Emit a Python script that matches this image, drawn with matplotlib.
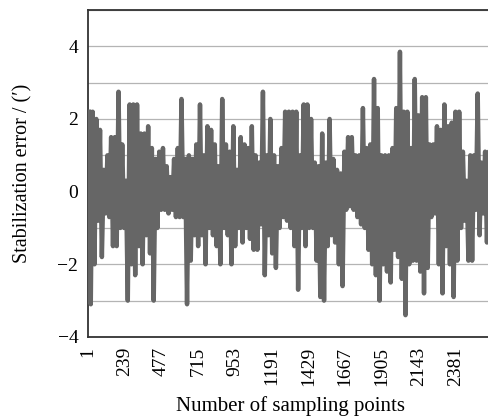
import numpy as np
import matplotlib.pyplot as plt
from matplotlib.ticker import MultipleLocator

# stabilization error, one window = 24 samples
# upper and lower extent of the trace inside each window
err_high = [
    2.2, 2.2, 2.0, 1.7, 0.6, 1.0, 1.5, 1.5, 2.75, 1.3,
    0.3, 2.4, 2.4, 2.4, 1.6, 1.6, 1.8, 1.2, 0.9, 1.1,
    1.2, 0.7, 0.4, 0.9, 1.2, 2.55, 0.9, 1.0, 0.9, 1.3,
    2.4, 1.0, 1.8, 1.7, 1.3, 0.7, 2.55, 1.3, 1.1, 1.8,
    0.6, 1.5, 1.3, 1.2, 1.8, 1.0, 0.8, 2.75, 1.0, 2.0,
    1.0, 0.7, 1.2, 2.2, 2.2, 2.2, 2.2, 1.0, 2.4, 2.4,
    2.0, 0.8, 0.7, 1.6, 0.8, 2.0, 0.9, 0.6, 0.5, 1.1,
    1.5, 1.5, 1.0, 1.0, 2.3, 1.2, 1.3, 3.1, 2.3, 1.0,
    1.0, 1.0, 1.2, 2.3, 3.85, 2.2, 2.2, 1.2, 3.1, 2.1,
    2.6, 2.6, 1.3, 1.3, 1.8, 1.7, 2.4, 1.8, 1.9, 2.2,
    2.2, 1.1, 0.3, 1.0, 1.0, 2.7, 0.8, 1.1, 1.1,
]
err_low = [
    -3.1, -2.0, -0.8, -1.8, -0.6, -0.7, -1.5, -1.5, -1.0, -1.0,
    -3.0, -2.0, -2.3, -1.5, -2.0, -1.2, -1.7, -3.0, -1.0, -0.5,
    -0.5, -0.6, -0.5, -0.7, -0.7, -0.7, -3.1, -1.9, -1.2, -1.5,
    -1.2, -2.0, -1.0, -1.2, -1.5, -2.0, -1.0, -1.2, -2.0, -1.5,
    -1.0, -1.4, -1.0, -1.3, -1.6, -1.6, -0.9, -2.3, -1.2, -1.7,
    -2.1, -1.0, -0.7, -0.8, -1.0, -1.5, -2.7, -1.0, -1.5, -1.0,
    -1.0, -1.9, -2.9, -3.0, -1.5, -1.2, -1.4, -2.0, -2.6, -0.5,
    -0.4, -0.5, -0.7, -0.9, -1.0, -1.6, -2.0, -2.3, -3.0, -2.0,
    -2.2, -2.5, -1.6, -1.8, -2.4, -3.4, -2.0, -1.9, -1.9, -2.2,
    -2.8, -2.1, -0.7, -0.6, -2.0, -2.8, -1.5, -2.0, -2.9, -1.9,
    -1.0, -0.8, -1.9, -1.9, -0.5, -1.2, -0.6, -1.4, -1.4,
]

window = 24
x_ticks = [1, 239, 477, 715, 953, 1191, 1429, 1667, 1905, 2143, 2381]

starts = 1 + window * np.arange(len(err_high))
samples = np.column_stack([starts + 6, starts + 18]).ravel()
error = np.column_stack([err_high, err_low]).ravel()

plt.rcParams["font.family"] = ["Liberation Serif", "DejaVu Serif"]

fig = plt.figure(figsize=(4.88, 4.16), dpi=100)
ax = fig.add_axes([0.1803, 0.19, 0.828, 0.786])

ax.plot(samples, error, color="#666666", linewidth=3.2, zorder=3)

ax.set_xlim(1, 2620)
ax.set_ylim(-4, 5)
ax.set_xticks(x_ticks)
ax.set_xticklabels([str(t) for t in x_ticks], rotation=90, va="top")
ax.set_yticks([-4, -2, 0, 2, 4])
ax.yaxis.set_minor_locator(MultipleLocator(1))
ax.grid(True, which="both", axis="y", color="#b4b4b4", linewidth=0.9)
ax.tick_params(which="both", length=0, labelsize=14)
ax.tick_params(axis="x", pad=7)
ax.tick_params(axis="y", pad=7)

for side in ["left", "bottom", "top", "right"]:
    ax.spines[side].set_linewidth(1.3)
    ax.spines[side].set_color("#333333")

ax.set_xlabel("Number of sampling points", fontsize=15, labelpad=7)
ax.set_ylabel("Stabilization error / (\u2032)", fontsize=14.5, labelpad=18)

fig.savefig("out.png", dpi=100)
